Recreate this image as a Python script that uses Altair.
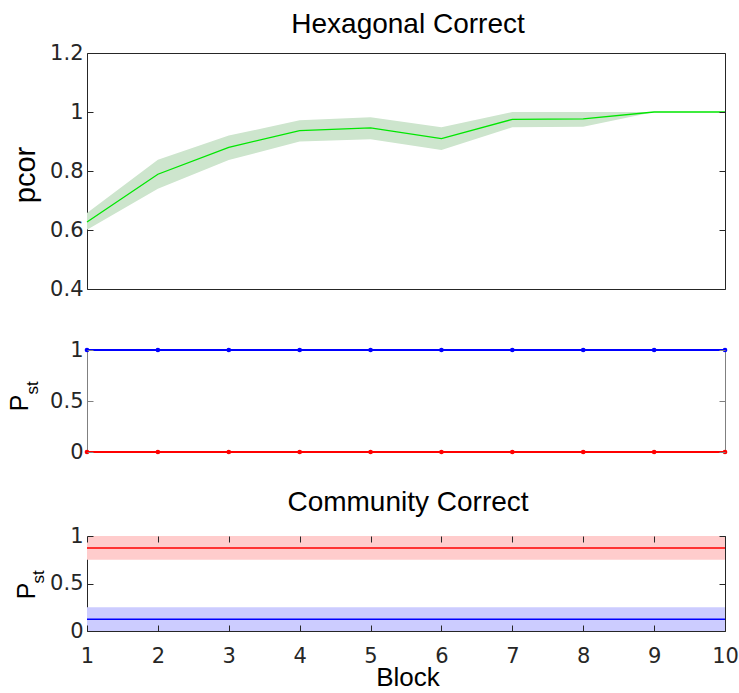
import altair as alt
import pandas as pd

# ---------------- data ----------------
blocks = [1, 2, 3, 4, 5, 6, 7, 8, 9, 10]

hex_mean = [0.627, 0.789, 0.880, 0.937, 0.946, 0.910, 0.975, 0.977, 1.0, 1.0]
hex_lower = [0.601, 0.740, 0.837, 0.900, 0.908, 0.871, 0.948, 0.950, 1.0, 1.0]
hex_upper = [0.658, 0.838, 0.920, 0.972, 0.982, 0.948, 1.0, 1.0, 1.0, 1.0]

pst_blue = [1, 1, 1, 1, 1, 1, 1, 1, 1, 1]
pst_red = [0, 0, 0, 0, 0, 0, 0, 0, 0, 0]

comm_red_mean = [0.875, 0.875, 0.875, 0.875, 0.875, 0.875, 0.875, 0.875, 0.875, 0.875]
comm_red_lower = [0.75, 0.75, 0.75, 0.75, 0.75, 0.75, 0.75, 0.75, 0.75, 0.75]
comm_red_upper = [1.0, 1.0, 1.0, 1.0, 1.0, 1.0, 1.0, 1.0, 1.0, 1.0]
comm_blue_mean = [0.125, 0.125, 0.125, 0.125, 0.125, 0.125, 0.125, 0.125, 0.125, 0.125]
comm_blue_lower = [0.0, 0.0, 0.0, 0.0, 0.0, 0.0, 0.0, 0.0, 0.0, 0.0]
comm_blue_upper = [0.25, 0.25, 0.25, 0.25, 0.25, 0.25, 0.25, 0.25, 0.25, 0.25]

hex_yticks = [0.4, 0.6, 0.8, 1.0, 1.2]
pst_yticks = [0, 0.5, 1]
block_ticks = [1, 2, 3, 4, 5, 6, 7, 8, 9, 10]

title_top = "Hexagonal Correct"
title_bottom = "Community Correct"
ylabel_top = "pcor"
ylabel_main = "P"
ylabel_sub = "st"
xlabel = "Block"

# ---------------- layout ----------------
W = 638
H_TOP, H_MID, H_BOT = 236, 102, 95
GAP1, GAP2 = 61, 84

DARK = "#262626"
GRAY = "#808080"
LABEL_FONT = "DejaVu Sans"
TEXT_FONT = "Liberation Sans"


def xscale():
    return alt.Scale(domain=[1, 10], nice=False, zero=False)


def yscale(d):
    return alt.Scale(domain=d, nice=False, zero=False)


def axis(orient, values, color, labels, fmt="~g", label_padding=4):
    return alt.Axis(
        orient=orient, values=values, format=fmt, offset=-6, tickSize=6,
        domain=False, grid=False, labels=labels, labelFont=LABEL_FONT,
        labelFontSize=21, labelColor=DARK, labelPadding=label_padding,
        labelOverlap=False, labelFlush=False, tickColor=color, tickWidth=1,
        title=None, zindex=1,
    )


def text_layer(txt, x, y, size, angle=0, baseline="middle"):
    return alt.Chart(pd.DataFrame({"t": [txt]})).mark_text(
        font=TEXT_FONT, fontSize=size, angle=angle, align="center",
        baseline=baseline, color="black",
    ).encode(text="t:N", x=alt.value(x), y=alt.value(y))


# ---------------- top panel ----------------
df_hex = pd.DataFrame({"block": blocks, "mean": hex_mean, "lo": hex_lower, "hi": hex_upper})

hex_band = alt.Chart(df_hex).mark_area(color="#cde5cd", opacity=1).encode(
    x=alt.X("block:Q", scale=xscale(), axis=None),
    y=alt.Y("lo:Q", scale=yscale([0.4, 1.2]), axis=axis("left", hex_yticks, DARK, True)),
    y2="hi:Q",
)
hex_line = alt.Chart(df_hex).mark_line(color="#00e600", strokeWidth=1.3).encode(
    x=alt.X("block:Q", scale=xscale(), axis=None),
    y=alt.Y("mean:Q", scale=yscale([0.4, 1.2]), axis=axis("right", hex_yticks, DARK, False)),
)
anchor = alt.Chart(pd.DataFrame({"a": [0]})).mark_point(opacity=0, size=1).encode(
    x=alt.value(-86), y=alt.value(-52)
)

top = alt.layer(
    hex_band, hex_line, anchor,
    text_layer(title_top, W / 2 + 2, -20, 28, baseline="alphabetic"),
    text_layer(ylabel_top, -61, 122, 29, angle=270),
).resolve_scale(x="independent", y="independent").properties(
    width=W, height=H_TOP, view=alt.ViewBackground(stroke=DARK, strokeWidth=1)
)

# ---------------- middle panel ----------------
df_pst = pd.DataFrame({"block": blocks, "blue": pst_blue, "red": pst_red})

red_st = alt.Chart(df_pst).mark_line(
    color="#ff0000", strokeWidth=2,
    point=alt.OverlayMarkDef(filled=True, color="#ff0000", size=22),
).encode(
    x=alt.X("block:Q", scale=xscale(), axis=None),
    y=alt.Y("red:Q", scale=yscale([0, 1]), axis=axis("left", pst_yticks, GRAY, True)),
)
blue_st = alt.Chart(df_pst).mark_line(
    color="#0000ff", strokeWidth=2,
    point=alt.OverlayMarkDef(filled=True, color="#0000ff", size=22),
).encode(
    x=alt.X("block:Q", scale=xscale(), axis=None),
    y=alt.Y("blue:Q", scale=yscale([0, 1]), axis=axis("right", pst_yticks, GRAY, False)),
)

mid = alt.layer(
    red_st, blue_st,
    text_layer(ylabel_main, -67, 53, 25, angle=270),
    text_layer(ylabel_sub, -54, 38, 17, angle=270),
).resolve_scale(x="independent", y="independent").properties(
    width=W, height=H_MID, view=alt.ViewBackground(stroke=GRAY, strokeWidth=1)
)

# ---------------- bottom panel ----------------
df_comm = pd.DataFrame({
    "block": blocks,
    "rm": comm_red_mean, "rlo": comm_red_lower, "rhi": comm_red_upper,
    "bm": comm_blue_mean, "blo": comm_blue_lower, "bhi": comm_blue_upper,
})

red_band = alt.Chart(df_comm).mark_area(color="#ffcccc", opacity=1).encode(
    x=alt.X("block:Q", scale=xscale(),
            axis=axis("bottom", block_ticks, DARK, True, fmt="d", label_padding=14)),
    y=alt.Y("rlo:Q", scale=yscale([0, 1]), axis=axis("left", pst_yticks, DARK, True)),
    y2="rhi:Q",
)
blue_band = alt.Chart(df_comm).mark_area(color="#ccccff", opacity=1).encode(
    x=alt.X("block:Q", scale=xscale(), axis=axis("top", block_ticks, DARK, False, fmt="d")),
    y=alt.Y("blo:Q", scale=yscale([0, 1]), axis=axis("right", pst_yticks, DARK, False)),
    y2="bhi:Q",
)
red_line = alt.Chart(df_comm).mark_line(color="#ff0000", strokeWidth=1.5).encode(
    x=alt.X("block:Q", scale=xscale(), axis=None),
    y=alt.Y("rm:Q", scale=yscale([0, 1]), axis=None),
)
blue_line = alt.Chart(df_comm).mark_line(color="#0000ff", strokeWidth=1.5).encode(
    x=alt.X("block:Q", scale=xscale(), axis=None),
    y=alt.Y("bm:Q", scale=yscale([0, 1]), axis=None),
)

bot = alt.layer(
    red_band, blue_band, red_line, blue_line,
    text_layer(title_bottom, W / 2 + 2, -25, 28, baseline="alphabetic"),
    text_layer(xlabel, W / 2 + 2, 150, 26, baseline="alphabetic"),
    text_layer(ylabel_main, -60, 55, 25, angle=270),
    text_layer(ylabel_sub, -48, 41, 17, angle=270),
).resolve_scale(x="independent", y="independent").properties(
    width=W, height=H_BOT, view=alt.ViewBackground(stroke=DARK, strokeWidth=1)
)


def spacer(h):
    return alt.Chart(pd.DataFrame({"a": [0]})).mark_point(opacity=0).encode(
        x=alt.value(0), y=alt.value(0)
    ).properties(width=W, height=h, view=alt.ViewBackground(strokeOpacity=0))


chart = alt.vconcat(
    top, spacer(GAP1), mid, spacer(GAP2), bot, spacing=0, bounds="flush"
).properties(
    padding=0, autosize=alt.AutoSizeParams(type="pad")
).configure(background="white")

chart.save("out.html", embed_options={"renderer": "svg", "actions": False})
